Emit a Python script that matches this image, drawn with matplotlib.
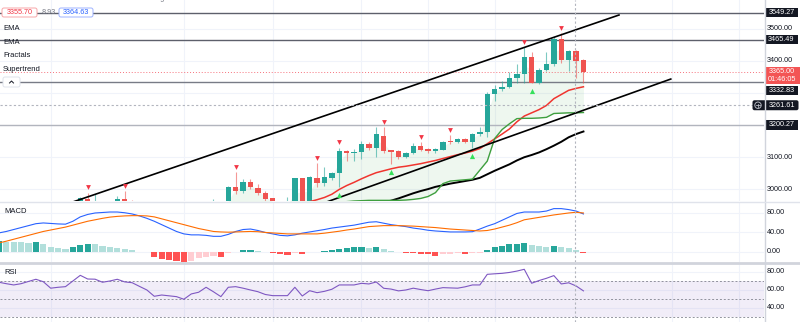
import numpy as np
import matplotlib.pyplot as plt
from matplotlib.patches import Rectangle, FancyBboxPatch, Circle

plt.rcParams['font.family'] = ['Liberation Sans', 'DejaVu Sans']

W, H = 800, 322

# ---- candles, index 0..78 ----
opens = [2905, 2909, 2915, 2911, 2923, 2931, 2925, 2918, 2924, 2933,
         2946, 2970, 2958, 2962, 2950, 2957, 2969, 2960, 2952, 2944,
         2930, 2915, 2904, 2896, 2886, 2872, 2888, 2895, 2920, 2935,
         2922, 3009, 2994, 3022, 3003, 2988, 2972, 2950, 2948, 2945,
         3034, 2950, 3037, 3019, 3037, 3050, 3118, 3112, 3115, 3140,
         3130, 3167, 3121, 3118, 3102, 3112, 3136, 3127, 3118, 3124,
         3149, 3146, 3158, 3146, 3171, 3177, 3295, 3313, 3319, 3347,
         3360, 3412, 3332, 3372, 3390, 3468, 3403, 3431, 3403]
highs = [2912, 2918, 2921, 2926, 2935, 2938, 2930, 2928, 2936, 2950,
         2975, 2990, 2985, 2964, 2961, 2981, 2994, 2967, 2958, 2948,
         2936, 2922, 2912, 2902, 2890, 2892, 2900, 2925, 2969, 2945,
         3010, 3053, 3031, 3031, 3016, 2995, 2974, 2962, 2975, 3036,
         3037, 3043, 3081, 3071, 3053, 3130, 3124, 3127, 3149, 3146,
         3195, 3195, 3124, 3121, 3115, 3143, 3146, 3130, 3130, 3149,
         3170, 3161, 3161, 3174, 3195, 3304, 3326, 3338, 3366, 3391,
         3443, 3428, 3378, 3428, 3474, 3487, 3434, 3434, 3406]
lows = [2898, 2903, 2906, 2908, 2918, 2920, 2912, 2914, 2920, 2930,
        2942, 2950, 2950, 2945, 2944, 2952, 2955, 2948, 2938, 2925,
        2910, 2898, 2890, 2880, 2866, 2868, 2882, 2890, 2912, 2915,
        2918, 2985, 2990, 3000, 2982, 2962, 2940, 2935, 2940, 2940,
        2945, 2948, 3009, 3012, 3030, 3007, 3087, 3087, 3096, 3124,
        3102, 3112, 3079, 3096, 3099, 3109, 3118, 3112, 3112, 3121,
        3140, 3143, 3143, 3129, 3167, 3164, 3276, 3307, 3316, 3332,
        3332, 3331, 3329, 3369, 3384, 3394, 3369, 3345, 3332]
closes = [2909, 2915, 2911, 2923, 2931, 2925, 2918, 2924, 2933, 2946,
          2972, 2958, 2962, 2950, 2957, 2970, 2960, 2952, 2944, 2930,
          2915, 2904, 2896, 2886, 2872, 2888, 2895, 2920, 2935, 2922,
          3006, 2994, 3022, 3006, 2988, 2969, 2950, 2948, 2955, 3034,
          2950, 3040, 3019, 3040, 3050, 3118, 3112, 3115, 3140, 3130,
          3171, 3118, 3115, 3102, 3112, 3136, 3124, 3118, 3127, 3146,
          3146, 3158, 3146, 3171, 3177, 3295, 3313, 3319, 3347, 3360,
          3412, 3332, 3372, 3390, 3468, 3403, 3431, 3400, 3365]

fractal_dn = [11, 16, 31, 42, 45, 51, 56, 60, 70, 75]
fractal_up = [45, 52, 63, 71]

# ---- overlays ----
ema_fast_idx = list(range(30, 79))
ema_fast = [2930, 2935, 2938, 2940, 2941, 2940, 2940, 2940, 2941, 2950,
            2952, 2962, 2968, 2975, 2985, 3000, 3012, 3022, 3033, 3043,
            3052, 3058, 3064, 3069, 3072, 3076, 3080, 3085, 3090, 3096,
            3102, 3108, 3113, 3119, 3127, 3142, 3157, 3172, 3188, 3210,
            3228, 3238, 3248, 3261, 3282, 3295, 3308, 3314, 3319]
ema_slow_idx = list(range(40, 79))
ema_slow = [2900, 2905, 2910, 2915, 2920, 2926, 2932, 2938, 2944, 2950,
            2955, 2960, 2965, 2972, 2980, 2988, 2995, 3001, 3008, 3013,
            3018, 3022, 3026, 3030, 3036, 3047, 3058, 3068, 3078, 3090,
            3100, 3107, 3115, 3125, 3136, 3148, 3162, 3172, 3180]
st_idx = list(range(29, 79))
supertrend = [2880, 2890, 2900, 2905, 2905, 2905, 2905, 2905, 2905, 2905,
              2925, 2925, 2940, 2950, 2950, 2950, 2960, 2962, 2964, 2965,
              2966, 2966, 2966, 2966, 2966, 2967, 2969, 2972, 2978, 2990,
              3018, 3026, 3028, 3030, 3032, 3060, 3088, 3158, 3186, 3204,
              3220, 3221, 3221, 3222, 3224, 3236, 3237, 3238, 3238, 3239]

channel_upper = ([9.0, 82.8], [2961, 3542])
channel_lower = ([43.3, 89.8], [2961, 3343])

levels = [3549.27, 3465.49, 3332.83, 3200.27]
last_price = 3365.00
cross_price = 3261.61
cross_idx = 76.85
price_ticks = [3000, 3100, 3200, 3300, 3400, 3500]
price_labels = [3000, 3100, 3400, 3500]   # 3200/3300 sit under the level tags

# ---- MACD, index -1..78 ----
ind_idx = list(range(-1, 79))
macd_line = [39, 42, 46, 50, 54, 58, 59.5, 58.5, 57.5, 57,
             63, 72, 77, 80, 81, 82, 82, 80.5, 78, 74,
             69, 63, 56, 49, 42, 37, 35, 35, 34, 32,
             32, 36, 42, 46, 47, 44, 40, 37, 34, 33,
             35, 38.5, 41, 43.5, 46, 49, 51, 53, 55, 58,
             61, 62, 59, 56, 54, 52, 49, 47, 44.5, 43,
             42, 41, 41, 41, 41.5, 47, 53, 58, 65, 72,
             79, 82, 82, 82, 84, 89, 89, 87, 84, 78]
signal_line = [18.5, 22, 26, 30, 34, 38, 42, 45, 48, 51,
               55, 59, 63, 66, 69, 71.5, 73, 74, 74.5, 74.5,
               74, 72, 68, 64, 60, 56, 52, 48, 45, 42,
               41, 40.5, 41, 41.5, 42, 41.5, 40, 39, 38, 37,
               37, 37, 37, 37, 38.5, 40.5, 42.5, 45, 47, 49.5,
               52, 53, 54, 54, 54, 53.5, 53, 52, 51, 50,
               48.5, 47, 46, 45, 44, 43, 44, 47, 51, 55,
               60, 66, 68.5, 71, 73.5, 76, 78, 80, 81.5, 80]
macd_hist = [22.6, 21, 20, 19.5, 18.8, 19.5, 15.7, 11, 7.5, 5.5,
             11, 14.4, 16.4, 15.7, 12.3, 9.6, 8.9, 5.5, 3.4, 0.7,
             -1, -9.6, -15, -16.4, -17.8, -20.5, -17.8, -13, -9.6, -8.2,
             -11, -2.7, 0.7, 4, 4.3, 2.7, 0.7, -2.7, -4, -7,
             -1.4, -4, -0.7, -0.5, 2.7, 4, 6, 8.9, 9.6, 9.8,
             8.9, 9.6, 5.5, 2.7, -0.7, -2.7, -3.0, -3.8, -4.3, -7.5,
             -4.1, -3.5, -2.7, -4.1, -2.7, -1.4, 4.1, 9.6, 13, 15.7,
             16.4, 19.1, 14.4, 12.3, 10.3, 13, 9.6, 7.5, 4.1, -2.7]
macd_ticks = [0, 40, 80]

rsi = [68.6, 67, 65.6, 67, 69.5, 71.9, 69.2, 62, 63, 63.7,
       70, 76.3, 72.2, 72, 68.6, 70, 71.9, 69, 68.1, 64,
       60, 53, 54.4, 53.5, 52.6, 49.7, 55.6, 57.5, 63, 58,
       52.6, 63, 63.7, 62, 60, 58.1, 55, 53.7, 53.7, 53.7,
       63, 53.3, 59.2, 57, 58.5, 60.8, 65.6, 65.6, 65.6, 67.4,
       66.7, 68.9, 61.9, 61, 59, 60, 62, 60.5, 59.2, 61,
       62.6, 62.3, 62, 63.5, 65.6, 65.6, 77.4, 78, 78.5, 79.5,
       81, 83, 67.5, 70.5, 73, 76, 66.7, 68, 64.5, 59]
rsi_ticks = [40, 60, 80]

vgrid = [6, 24, 36, 48, 57, 66, 90, 99]

# ---- colours ----
UP, DN = '#26a69a', '#ef5350'
TXT = '#131722'
GRID = '#f0f3fa'
XLIM = (-0.85, 102.4)
P_TOP, P_BOT = 3588.7, 2964.0


def rect(x0, y0, x1, y1):
    return [x0 / W, 1 - y1 / H, (x1 - x0) / W, (y1 - y0) / H]


def py(p):
    return (P_TOP - p) / (P_TOP - P_BOT) * 201


fig = plt.figure(figsize=(W / 100, H / 100), dpi=100)
fig.patch.set_facecolor('white')
ax = fig.add_axes(rect(0, 0, 764, 201))
axm = fig.add_axes(rect(0, 202, 764, 262))
axr = fig.add_axes(rect(0, 263, 764, 322))
for a in (ax, axm, axr):
    a.set_xlim(*XLIM)
    a.set_xticks([])
    a.set_yticks([])
    for s in a.spines.values():
        s.set_visible(False)
    for g in vgrid:
        a.axvline(g, color=GRID, lw=0.8, zorder=0)
    a.axvline(cross_idx, color='#b2b5be', lw=0.8, ls=(0, (2, 2)), zorder=6)

# ---- main pane ----
ax.set_ylim(P_BOT, P_TOP)
for t in price_ticks:
    ax.axhline(t, color=GRID, lw=0.8, zorder=0)

o = np.array(opens)
c = np.array(closes)
idx = np.arange(len(opens))
mid = (o + c) / 2
st_i = np.array(st_idx)
ax.fill_between(st_i, supertrend, mid[st_i], color='#4caf50', alpha=0.09, lw=0, zorder=1)

cols = [UP if cc >= oo else DN for oo, cc in zip(opens, closes)]
ax.vlines(idx, lows, highs, colors=cols, lw=0.8, alpha=0.6, zorder=3)
body = np.maximum(np.abs(c - o), 2.0)
ax.bar(idx, body, bottom=np.minimum(o, c), width=0.74, color=cols, lw=0, zorder=4)

ax.plot(ema_fast_idx, ema_fast, color='#f0352f', lw=1.1, zorder=5)
ax.plot(ema_slow_idx, ema_slow, color='#000000', lw=1.4, zorder=5)
ax.plot(st_idx, supertrend, color='#3f9f3f', lw=1.0, zorder=5)
ax.plot(*channel_upper, color='#000000', lw=1.2, zorder=5)
ax.plot(*channel_lower, color='#000000', lw=1.2, zorder=5)

hi = np.array(highs)
lo = np.array(lows)
ax.scatter(fractal_dn, hi[fractal_dn] + 16, marker='v', s=12, color='#f23645', lw=0, zorder=6)
ax.scatter(fractal_up, lo[fractal_up] - 24, marker='^', s=14, color='#35e05a', lw=0, zorder=6)

lvl_cols = ['#5d606b', '#5d606b', '#787b86', '#b2b5be']
for lv, lc in zip(levels, lvl_cols):
    ax.axhline(lv, color=lc, lw=1.0, zorder=2)
ax.axhline(last_price, color='#f23645', lw=0.7, ls=(0, (1, 2)), alpha=0.7, zorder=2)
ax.axhline(cross_price, color='#b2b5be', lw=0.8, ls=(0, (2, 2)), zorder=6)

# ---- MACD pane ----
axm.set_ylim(-20.8, 102.6)
for t in macd_ticks:
    axm.axhline(t, color=GRID, lw=0.8, zorder=0)
hcols = []
for k, v in enumerate(macd_hist):
    prev = macd_hist[k - 1] if k > 0 else v
    if v >= 0:
        hcols.append('#26a69a' if v >= prev else '#b2dfdb')
    else:
        hcols.append('#ffcdd2' if v >= prev else '#ff5252')
axm.bar(ind_idx, macd_hist, width=0.82, color=hcols, lw=0, zorder=2)
axm.plot(ind_idx, macd_line, color='#2962ff', lw=0.8, zorder=3)
axm.plot(ind_idx, signal_line, color='#ff6d00', lw=0.8, zorder=3)

# ---- RSI pane ----
axr.set_ylim(24.4, 90)
for t in rsi_ticks:
    axr.axhline(t, color=GRID, lw=0.8, zorder=0)
axr.axhspan(30, 70, color='#7e57c2', alpha=0.1, lw=0, zorder=1)
for t in (30, 50, 70):
    axr.axhline(t, color='#787b86', lw=0.7, ls=(0, (2, 2)), alpha=0.8, zorder=2)
axr.plot(ind_idx, rsi, color='#7e57c2', lw=0.8, zorder=3)

# ---- overlay: scales, labels, legend ----
ov = fig.add_axes([0, 0, 1, 1], zorder=10)
ov.set_xlim(0, W)
ov.set_ylim(H, 0)
ov.axis('off')
ov.patch.set_alpha(0)

ov.plot([764.5, 764.5], [0, H], color='#d1d4dc', lw=1)
ov.plot([0, W], [201.5, 201.5], color='#e0e3eb', lw=1)
ov.plot([0, W], [262.5, 262.5], color='#d1d4dc', lw=2)

FS = 5.2
for t in price_labels:
    ov.text(767, py(t), f'{t:.2f}', fontsize=FS, color=TXT, ha='left', va='center')
for t in macd_ticks:
    yy = 202 + (102.6 - t) / (102.6 + 20.8) * 60
    ov.text(767, yy, f'{t:.2f}', fontsize=FS, color=TXT, ha='left', va='center')
for t in rsi_ticks:
    yy = 263 + (90 - t) / (90 - 24.4) * 59
    ov.text(767, yy, f'{t:.2f}', fontsize=FS, color=TXT, ha='left', va='center')


def price_box(y, text, fc='#131722'):
    ov.add_patch(Rectangle((765, y - 4.6), 33, 9.2, fc=fc, ec='none'))
    ov.text(781.5, y, text, fontsize=FS, color='white', ha='center', va='center')


lvl_y = [py(levels[0]), py(levels[1]), py(levels[2]) + 8, py(levels[3])]
for lv, yy in zip(levels, lvl_y):
    price_box(yy, f'{lv:.2f}')

yl = py(last_price)
ov.add_patch(Rectangle((765, yl - 4.5), 35, 16.5, fc='#f35454', ec='none'))
ov.text(781.5, yl, f'{last_price:.2f}', fontsize=FS, color='white', ha='center', va='center')
ov.text(781.5, yl + 8, '01:46:05', fontsize=FS, color='white', ha='center', va='center')

yc = py(cross_price)
ov.add_patch(FancyBboxPatch((752.5, yc - 5), 46, 10, boxstyle='round,pad=0,rounding_size=2',
                            fc='#131722', ec='none'))
ov.add_patch(Circle((758, yc), 3.2, fc='none', ec='#b2b5be', lw=0.7))
ov.plot([756.3, 759.7], [yc, yc], color='#b2b5be', lw=0.6)
ov.plot([758, 758], [yc - 1.7, yc + 1.7], color='#b2b5be', lw=0.6)
ov.text(782, yc, f'{cross_price:.2f}', fontsize=FS, color='white', ha='center', va='center')

# legend
ov.text(3, -1.5, 'Ethereum / U.S. Dollar · 1h · COINBASE · TradingView', fontsize=FS,
        color='#787b86', ha='left', va='center')
ov.add_patch(FancyBboxPatch((2, 8), 35, 9, boxstyle='round,pad=0,rounding_size=2',
                            fc='white', ec='#f7a6a8', lw=0.7))
ov.text(19.5, 12.7, '3355.70', fontsize=FS, color='#f23645', ha='center', va='center')
ov.text(42, 12.7, '8.93', fontsize=FS, color='#787b86', ha='left', va='center')
ov.add_patch(FancyBboxPatch((59, 8), 34, 9, boxstyle='round,pad=0,rounding_size=2',
                            fc='white', ec='#9db2ff', lw=0.7))
ov.text(76, 12.7, '3364.63', fontsize=FS, color='#2962ff', ha='center', va='center')
for yy, name in zip([28, 42, 55, 69], ['EMA', 'EMA', 'Fractals', 'Supertrend']):
    ov.text(3, yy, name, fontsize=FS + 0.3, color=TXT, ha='left', va='center')
ov.add_patch(FancyBboxPatch((3, 77), 17, 10, boxstyle='round,pad=0,rounding_size=2',
                            fc='white', ec='#e0e3eb', lw=0.7))
ov.plot([9.5, 11.5, 13.5], [83, 81, 83], color=TXT, lw=0.7)

ov.text(4, 211.5, 'MACD', fontsize=FS + 0.3, color=TXT, ha='left', va='center')
ov.text(4, 272, 'RSI', fontsize=FS + 0.3, color=TXT, ha='left', va='center')

fig.savefig('out.png', dpi=100)
